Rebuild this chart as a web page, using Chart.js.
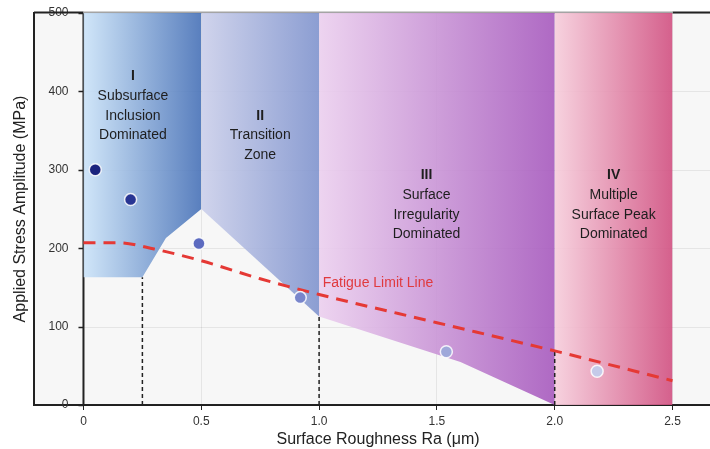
<!DOCTYPE html>
<html>
<head>
<meta charset="utf-8">
<style>
  html, body { margin: 0; padding: 0; overflow: hidden; background: #ffffff; width: 710px; height: 449px; }
  #wrap { width: 722px; height: 449px; }
</style>
<script src="https://cdn.jsdelivr.net/npm/chart.js@4.4.0/dist/chart.umd.min.js"></script>
</head>
<body>
<div id="wrap"><canvas id="c" width="722" height="449"></canvas></div>
<script>
// ---------- data ----------
const xTickValues = [0, 0.5, 1.0, 1.5, 2.0, 2.5];
const xTickLabels = ['0', '0.5', '1.0', '1.5', '2.0', '2.5'];
const yTickValues = [0, 100, 200, 300, 400, 500];
const yTickLabels = ['0', '100', '200', '300', '400', '500'];

// lower boundaries of the four mechanism zones (each zone fills up to 500 MPa)
const zoneIBottomX = [0, 0.25, 0.35, 0.5];
const zoneIBottomY = [163, 163, 213, 250];
const zoneIIBottomX = [0.5, 1.0];
const zoneIIBottomY = [250, 113];
const zoneIIIBottomX = [1.0, 1.6, 2.0];
const zoneIIIBottomY = [113, 55, 0];
const zoneIVBottomX = [2.0, 2.5];
const zoneIVBottomY = [0, 0];

// fatigue limit line
const fatigueRa = [0, 0.15, 0.3, 0.5, 0.75, 1.0, 1.5, 2.0, 2.5];
const fatigueStress = [207, 207, 199, 184, 161, 141, 105, 69, 31];

// measured samples
const sampleRa = [0.05, 0.2, 0.49, 0.92, 1.54, 2.18];
const sampleStress = [300, 262, 206, 137, 68, 43];

// transition markers (vertical dashed lines)
const transitionRa = [0.25, 1.0, 2.0];
const transitionTop = [163, 113, 69];

// zone labels
const zoneNumerals = ['I', 'II', 'III', 'IV'];
const zoneTexts = [
  ['Subsurface', 'Inclusion', 'Dominated'],
  ['Transition', 'Zone'],
  ['Surface', 'Irregularity', 'Dominated'],
  ['Multiple', 'Surface Peak', 'Dominated']
];
const zoneLabelRa = [0.21, 0.75, 1.456, 2.25];
const zoneLabelStress = [419, 369, 293, 293];

const fatigueLabel = 'Fatigue Limit Line';
const fatigueLabelRa = 1.25;
const fatigueLabelStress = 156;

// ---------- helpers ----------
const FONT = '"Liberation Sans", Arial, Helvetica, sans-serif';
Chart.defaults.font.family = FONT;

function pts(xs, ys) { return xs.map((x, i) => ({ x: x, y: ys[i] })); }

function zoneGradient(x0, x1, c0, c1) {
  return function (ctx) {
    const chart = ctx.chart;
    const xs = chart.scales && chart.scales.x;
    if (!xs || !chart.chartArea) return c1;
    const g = chart.ctx.createLinearGradient(xs.getPixelForValue(x0), 0, xs.getPixelForValue(x1), 0);
    g.addColorStop(0, c0);
    g.addColorStop(1, c1);
    return g;
  };
}

function zoneDataset(xs, ys, c0, c1) {
  return {
    type: 'line',
    data: pts(xs, ys),
    fill: 'end',
    backgroundColor: zoneGradient(xs[0], xs[xs.length - 1], c0, c1),
    borderColor: 'rgba(0,0,0,0)',
    borderWidth: 0,
    pointRadius: 0,
    tension: 0,
    order: 10
  };
}

const datasets = [
  zoneDataset(zoneIBottomX, zoneIBottomY, 'rgba(204,228,249,0.9)', 'rgba(72,114,184,0.9)'),
  zoneDataset(zoneIIBottomX, zoneIIBottomY, 'rgba(204,208,235,0.9)', 'rgba(128,148,206,0.9)'),
  zoneDataset(zoneIIIBottomX, zoneIIIBottomY, 'rgba(236,208,239,0.9)', 'rgba(167,90,190,0.9)'),
  zoneDataset(zoneIVBottomX, zoneIVBottomY, 'rgba(247,206,220,0.9)', 'rgba(209,80,129,0.9)')
];

transitionRa.forEach((r, i) => {
  datasets.push({
    type: 'line',
    data: [{ x: r, y: 0 }, { x: r, y: transitionTop[i] }],
    borderColor: '#222222',
    borderWidth: 1.5,
    borderDash: [4, 3],
    pointRadius: 0,
    fill: false,
    order: 5
  });
});

datasets.push({
  type: 'line',
  data: pts(fatigueRa, fatigueStress),
  borderColor: '#e53935',
  borderWidth: 3,
  borderDash: [12, 8],
  pointRadius: 0,
  fill: false,
  cubicInterpolationMode: 'monotone',
  order: 2
});

datasets.push({
  type: 'scatter',
  data: pts(sampleRa, sampleStress),
  showLine: false,
  pointRadius: 6,
  pointHoverRadius: 6,
  pointBackgroundColor: ['#1a237e', '#283593', '#5c6bc0', '#7986cb', '#9fa8da', '#c5cae9'],
  pointBorderColor: 'rgba(255,255,255,0.85)',
  pointBorderWidth: 1.5,
  order: 1
});

// ---------- plugin: background, frame, y-axis at x=0, labels ----------
const framePlugin = {
  id: 'frame',
  beforeDraw(chart) {
    const { ctx, chartArea: a } = chart;
    ctx.save();
    ctx.fillStyle = '#f7f7f7';
    ctx.fillRect(a.left, a.top, a.right - a.left, a.bottom - a.top);
    ctx.restore();
  },
  beforeDatasetsDraw(chart) {
    const { ctx, chartArea: a } = chart;
    const xs = chart.scales.x, ys = chart.scales.y;
    const x0 = xs.getPixelForValue(0);
    const xEnd = xs.getPixelForValue(xTickValues[xTickValues.length - 1]);
    ctx.save();
    // horizontal grid lines starting at Ra = 0
    ctx.strokeStyle = 'rgba(0,0,0,0.07)';
    ctx.lineWidth = 1;
    yTickValues.forEach(v => {
      const py = Math.round(ys.getPixelForValue(v)) + 0.5;
      ctx.beginPath(); ctx.moveTo(x0, py); ctx.lineTo(a.right, py); ctx.stroke();
    });
    // y tick labels
    ctx.fillStyle = '#333333';
    ctx.font = '12px ' + FONT;
    ctx.textAlign = 'right';
    ctx.textBaseline = 'middle';
    yTickValues.forEach((v, i) => {
      ctx.fillText(yTickLabels[i], x0 - 15, ys.getPixelForValue(v));
    });
    // tick marks on the y axis at Ra = 0
    ctx.strokeStyle = '#222222';
    ctx.lineWidth = 1.5;
    yTickValues.forEach(v => {
      const py = Math.round(ys.getPixelForValue(v)) + 0.5;
      ctx.beginPath(); ctx.moveTo(x0 - 5, py); ctx.lineTo(x0, py); ctx.stroke();
    });
    // y axis line at Ra = 0
    ctx.lineWidth = 2;
    ctx.beginPath(); ctx.moveTo(x0, a.top); ctx.lineTo(x0, a.bottom); ctx.stroke();
    // top frame line
    const ty = a.top - 0.5;
    ctx.strokeStyle = '#222222';
    ctx.beginPath(); ctx.moveTo(a.left, ty); ctx.lineTo(x0, ty); ctx.stroke();
    ctx.beginPath(); ctx.moveTo(xEnd, ty); ctx.lineTo(a.right, ty); ctx.stroke();
    ctx.strokeStyle = '#a4a4a4';
    ctx.beginPath(); ctx.moveTo(x0, ty); ctx.lineTo(xEnd, ty); ctx.stroke();
    ctx.restore();
  },
  afterDatasetsDraw(chart) {
    const { ctx } = chart;
    const xs = chart.scales.x, ys = chart.scales.y;
    ctx.save();
    ctx.textAlign = 'center';
    ctx.textBaseline = 'middle';
    ctx.fillStyle = '#1e1e1e';
    zoneNumerals.forEach((n, i) => {
      const px = xs.getPixelForValue(zoneLabelRa[i]);
      const py = ys.getPixelForValue(zoneLabelStress[i]);
      ctx.font = 'bold 14px ' + FONT;
      ctx.fillText(n, px, py);
      ctx.font = '14px ' + FONT;
      zoneTexts[i].forEach((t, j) => ctx.fillText(t, px, py + (j + 1) * 19.7));
    });
    ctx.fillStyle = '#e03a3e';
    ctx.font = '14px ' + FONT;
    ctx.fillText(fatigueLabel, xs.getPixelForValue(fatigueLabelRa), ys.getPixelForValue(fatigueLabelStress));
    ctx.restore();
  }
};

new Chart(document.getElementById('c'), {
  type: 'line',
  data: { datasets: datasets },
  options: {
    responsive: false,
    animation: false,
    events: [],
    layout: { autoPadding: false, padding: { top: 13, left: 0, right: 0, bottom: 0 } },
    plugins: { legend: { display: false }, tooltip: { enabled: false } },
    scales: {
      x: {
        type: 'linear',
        min: -0.21,
        max: 2.71,
        afterBuildTicks(scale) { scale.ticks = xTickValues.map(v => ({ value: v })); },
        afterFit(scale) { scale.height = 44; scale.paddingLeft = 0; scale.paddingRight = 0; },
        ticks: {
          autoSkip: false,
          padding: 4,
          color: '#333333',
          font: { size: 12 },
          callback: (v) => { const i = xTickValues.indexOf(v); return i >= 0 ? xTickLabels[i] : ''; }
        },
        grid: { color: 'rgba(0,0,0,0.07)', tickColor: '#222222', tickLength: 5, drawTicks: true },
        border: { display: true, color: '#222222', width: 2 },
        title: { display: true, text: 'Surface Roughness Ra (μm)', color: '#222222', font: { size: 16 }, padding: { top: 0, bottom: 0 } }
      },
      y: {
        type: 'linear',
        position: 'left',
        min: 0,
        max: 500,
        afterBuildTicks(scale) { scale.ticks = yTickValues.map(v => ({ value: v })); },
        afterFit(scale) { scale.width = 34; scale.paddingTop = 0; scale.paddingBottom = 0; },
        ticks: { display: false },
        grid: { display: false, drawTicks: false },
        border: { display: true, color: '#222222', width: 2 },
        title: { display: true, text: 'Applied Stress Amplitude (MPa)', color: '#222222', font: { size: 16 }, padding: { top: 11, bottom: 0 } }
      }
    }
  },
  plugins: [framePlugin]
});
</script>
</body>
</html>
